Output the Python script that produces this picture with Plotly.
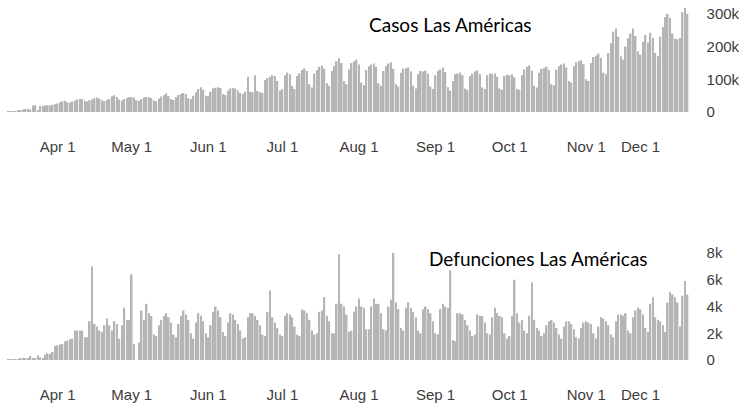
import pandas as pd
import plotly.graph_objects as go
from plotly.subplots import make_subplots

start_date = "2020-03-12"

# Daily new cases, thousands (Mar 12 - Dec 12, 2020), one row per week (Thu..Wed)
cases_k = [
    1, 2, 2, 3, 4, 6, 8,
    9, 10, 8, 20, 21, 4, 18,
    19, 20, 21, 20, 22, 24, 26,
    30, 33, 34, 30, 29, 32, 35,
    38, 40, 40, 34, 32, 36, 38,
    42, 44, 41, 36, 33, 37, 40,
    48, 51, 46, 38, 35, 40, 43,
    45, 46, 44, 36, 34, 40, 44,
    46, 45, 43, 35, 33, 41, 47,
    52, 57, 50, 40, 37, 45, 52,
    55, 58, 54, 42, 40, 50, 60,
    70, 76, 68, 50, 48, 62, 72,
    74, 76, 73, 55, 52, 65, 72,
    73, 72, 66, 58, 55, 62, 108,
    62, 60, 112, 64, 60, 58, 98,
    104, 108, 112, 110, 95, 65, 70,
    112, 121, 115, 80, 70, 110, 118,
    128, 133, 125, 85, 75, 118, 128,
    138, 142, 132, 88, 80, 125, 140,
    155, 164, 150, 95, 85, 130, 150,
    155, 160, 145, 90, 82, 128, 140,
    145, 148, 138, 88, 80, 125, 140,
    148, 152, 132, 85, 78, 120, 132,
    134, 136, 124, 80, 72, 115, 125,
    124, 127, 117, 78, 70, 112, 125,
    130, 136, 122, 76, 65, 95, 115,
    118, 121, 112, 72, 68, 110, 118,
    124, 127, 116, 75, 70, 112, 118,
    116, 118, 108, 72, 68, 110, 114,
    112, 115, 106, 70, 68, 112, 130,
    138, 142, 126, 80, 75, 120, 132,
    134, 138, 128, 85, 82, 130, 140,
    145, 148, 136, 95, 90, 140, 152,
    155, 158, 146, 100, 95, 150, 168,
    172, 179, 165, 120, 115, 180, 210,
    245, 255, 230, 170, 160, 200, 225,
    240, 255, 232, 185, 175, 215, 235,
    212, 242, 226, 180, 170, 230, 260,
    290, 300, 288, 240, 224, 222, 226,
    305, 318, 300,
]

# Daily deaths, thousands (same dates)
deaths_k = [
    0.03, 0.04, 0.05, 0.05, 0.06, 0.08, 0.10,
    0.12, 0.15, 0.30, 0.15, 0.10, 0.35, 0.20,
    0.10, 0.40, 0.50, 0.45, 0.60, 1.05, 1.10,
    1.15, 1.20, 1.40, 1.45, 1.55, 1.60, 2.20,
    2.20, 2.20, 2.20, 1.70, 1.70, 2.90, 7.00,
    2.70, 2.50, 2.20, 2.10, 2.60, 3.10, 2.60,
    2.20, 2.90, 2.70, 1.60, 2.60, 3.90, 3.00,
    3.00, 6.40, 1.20, 0.00, 1.30, 3.70, 3.00,
    4.20, 3.50, 3.30, 1.90, 1.80, 2.60, 3.00,
    3.30, 3.50, 3.20, 2.80, 1.90, 1.70, 2.70,
    3.30, 3.70, 3.40, 3.00, 2.00, 1.60, 2.80,
    3.50, 3.30, 2.90, 2.00, 1.70, 2.60, 3.60,
    4.00, 3.70, 3.20, 2.10, 1.80, 2.80, 3.50,
    3.40, 3.00, 2.70, 2.20, 1.60, 1.70, 3.20,
    3.50, 3.50, 3.30, 3.00, 2.60, 1.90, 1.80,
    3.60, 5.20, 3.20, 2.80, 2.40, 1.90, 1.80,
    3.30, 3.50, 3.40, 3.20, 2.50, 1.90, 1.80,
    3.80, 3.70, 3.50, 3.00, 2.20, 1.90, 2.00,
    3.60, 3.70, 4.70, 3.30, 2.90, 2.00, 2.00,
    4.20, 7.90, 4.20, 4.00, 3.40, 2.10, 2.20,
    3.60, 4.00, 4.60, 4.00, 3.90, 2.30, 2.30,
    4.00, 4.60, 4.20, 4.20, 3.50, 2.30, 2.20,
    4.00, 4.50, 8.00, 4.30, 3.80, 2.40, 2.20,
    3.90, 4.30, 3.90, 3.60, 3.20, 2.20, 2.00,
    3.80, 4.00, 3.80, 3.50, 2.90, 2.00, 1.90,
    3.80, 4.20, 4.00, 3.90, 6.70, 1.50, 1.40,
    3.50, 3.50, 3.40, 3.00, 2.60, 2.20, 1.80,
    1.90, 3.40, 3.30, 3.30, 2.80, 2.00, 1.90,
    3.20, 3.90, 3.50, 3.30, 3.20, 2.00, 1.60,
    1.80, 3.30, 6.00, 3.50, 2.80, 3.00, 2.20,
    2.00, 3.30, 5.80, 3.00, 2.40, 2.20, 1.80,
    2.00, 2.60, 2.90, 3.00, 2.80, 2.40, 1.90,
    1.60, 2.50, 2.90, 2.90, 2.70, 2.30, 1.70,
    1.60, 2.40, 2.80, 2.90, 2.80, 2.70, 2.00,
    1.60, 2.50, 3.20, 3.10, 2.90, 2.60, 1.90,
    1.70, 2.90, 3.40, 3.40, 3.30, 3.50, 2.20,
    2.00, 3.20, 3.70, 3.90, 3.80, 3.40, 2.40,
    2.10, 4.20, 4.70, 3.20, 3.00, 2.90, 2.60,
    2.10, 4.30, 5.10, 4.90, 4.70, 4.30, 2.50,
    4.80, 5.90, 4.90,
]

tick_dates = ["2020-04-01", "2020-05-01", "2020-06-01", "2020-07-01", "2020-08-01",
              "2020-09-01", "2020-10-01", "2020-11-01", "2020-11-23"]
tick_text = ["Apr 1", "May 1", "Jun 1", "Jul 1", "Aug 1", "Sep 1", "Oct 1", "Nov 1", "Dec 1"]

cases_ticks = [0, 100, 200, 300]
cases_tick_text = ["0", "100k", "200k", "300k"]
deaths_ticks = [0, 2, 4, 6, 8]
deaths_tick_text = ["0", "2k", "4k", "6k", "8k"]

title_cases = "Casos Las Américas"
title_deaths = "Defunciones Las Américas"

dates = pd.date_range(start_date, periods=len(cases_k), freq="D")

W, H = 743, 404


def px_x(x):
    return x / W


def px_y(y):
    return 1 - y / H


bar_color = "#b5b5b5"
tick_font = dict(family="Liberation Sans, Arial, sans-serif", size=15, color="#3c3c3c")

fig = make_subplots(rows=2, cols=1)
fig.add_trace(go.Bar(x=dates, y=cases_k, marker=dict(color=bar_color, line=dict(width=0)),
                     showlegend=False, hoverinfo="x+y"), row=1, col=1)
fig.add_trace(go.Bar(x=dates, y=deaths_k, marker=dict(color=bar_color, line=dict(width=0)),
                     showlegend=False, hoverinfo="x+y"), row=2, col=1)

xdom = [px_x(7), px_x(690.6)]
xrange_ = ["2020-03-11 12:00", "2020-12-13 06:00"]
top_dom = [px_y(112), px_y(4)]
bot_dom = [px_y(360), px_y(249)]

common_x = dict(domain=xdom, range=xrange_, type="date", tickvals=tick_dates, ticktext=tick_text,
                tickfont=tick_font, showgrid=False, zeroline=False, showline=False, ticks="",
                ticklabelstandoff=24)
fig.update_xaxes(**common_x, row=1, col=1)
fig.update_xaxes(**common_x, row=2, col=1)

common_y = dict(side="right", showgrid=False, zeroline=False, showline=False, ticks="",
                tickfont=tick_font, ticklabelstandoff=15)
fig.update_yaxes(**common_y, domain=top_dom, range=[0, 330], tickvals=cases_ticks,
                 ticktext=cases_tick_text, row=1, col=1)
fig.update_yaxes(**common_y, domain=bot_dom, range=[0, 8.3], tickvals=deaths_ticks,
                 ticktext=deaths_tick_text, row=2, col=1)

title_font = dict(family="Lato, sans-serif", size=19, color="#000000")
fig.add_annotation(text=title_cases, x=px_x(450), y=px_y(24), xref="paper", yref="paper",
                   showarrow=False, font=title_font, xanchor="center", yanchor="middle")
fig.add_annotation(text=title_deaths, x=px_x(538), y=px_y(258), xref="paper", yref="paper",
                   showarrow=False, font=title_font, xanchor="center", yanchor="middle")

fig.update_layout(width=W, height=H, margin=dict(l=0, r=0, t=0, b=0, autoexpand=False),
                  paper_bgcolor="white", plot_bgcolor="white", bargap=0.35)

fig.write_html(
    "out.html",
    config={"displayModeBar": False},
    post_script="document.body.style.margin='0';document.body.style.overflow='hidden';",
)
